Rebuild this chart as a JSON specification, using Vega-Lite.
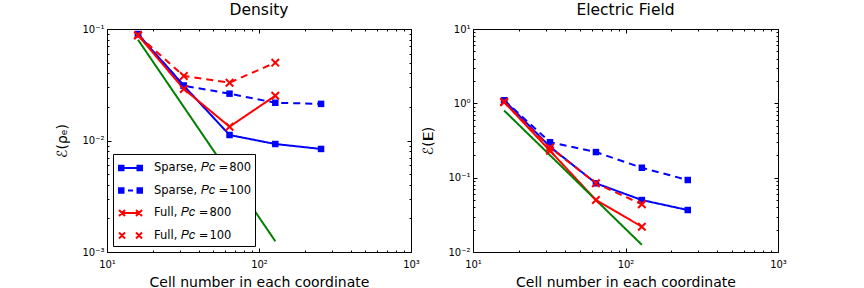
{
  "$schema": "https://vega.github.io/schema/vega-lite/v6.json",
  "padding": {"left": 55, "top": 2, "right": 5, "bottom": 0},
  "background": "white",
  "spacing": 1,
  "config": {
    "font": "DejaVu Sans",
    "view": {"stroke": "black", "strokeWidth": 1},
    "axis": {"grid": false, "domain": false, "labelFont": "DejaVu Sans", "labelFontSize": 10, "labelColor": "black", "tickColor": "black", "tickWidth": 1, "titleFont": "DejaVu Sans", "titleFontWeight": "normal", "titleColor": "black", "titleFontSize": 14, "labelFlush": false, "labelOverlap": false},
    "title": {"font": "DejaVu Sans", "fontSize": 15.5, "fontWeight": "normal", "color": "black", "offset": 6}
  },
  "datasets": {
    "d": [
      {"panel": "density", "series": "Sparse800", "x": 16, "y": 0.090},
      {"panel": "density", "series": "Sparse800", "x": 32, "y": 0.031},
      {"panel": "density", "series": "Sparse800", "x": 64, "y": 0.0112},
      {"panel": "density", "series": "Sparse800", "x": 128, "y": 0.0093},
      {"panel": "density", "series": "Sparse800", "x": 256, "y": 0.0084},
      {"panel": "density", "series": "Sparse100", "x": 16, "y": 0.090},
      {"panel": "density", "series": "Sparse100", "x": 32, "y": 0.031},
      {"panel": "density", "series": "Sparse100", "x": 64, "y": 0.0263},
      {"panel": "density", "series": "Sparse100", "x": 128, "y": 0.0218},
      {"panel": "density", "series": "Sparse100", "x": 256, "y": 0.0213},
      {"panel": "density", "series": "Full800", "x": 16, "y": 0.088},
      {"panel": "density", "series": "Full800", "x": 32, "y": 0.029},
      {"panel": "density", "series": "Full800", "x": 64, "y": 0.0133},
      {"panel": "density", "series": "Full800", "x": 128, "y": 0.0252},
      {"panel": "density", "series": "Full100", "x": 16, "y": 0.088},
      {"panel": "density", "series": "Full100", "x": 32, "y": 0.0379},
      {"panel": "density", "series": "Full100", "x": 64, "y": 0.033},
      {"panel": "density", "series": "Full100", "x": 128, "y": 0.0499},
      {"panel": "density", "series": "ref", "x": 16, "y": 0.08},
      {"panel": "density", "series": "ref", "x": 128, "y": 0.00125},
      {"panel": "efield", "series": "Sparse800", "x": 16, "y": 1.10},
      {"panel": "efield", "series": "Sparse800", "x": 32, "y": 0.26},
      {"panel": "efield", "series": "Sparse800", "x": 64, "y": 0.084},
      {"panel": "efield", "series": "Sparse800", "x": 128, "y": 0.050},
      {"panel": "efield", "series": "Sparse800", "x": 256, "y": 0.0367},
      {"panel": "efield", "series": "Sparse100", "x": 16, "y": 1.10},
      {"panel": "efield", "series": "Sparse100", "x": 32, "y": 0.30},
      {"panel": "efield", "series": "Sparse100", "x": 64, "y": 0.221},
      {"panel": "efield", "series": "Sparse100", "x": 128, "y": 0.136},
      {"panel": "efield", "series": "Sparse100", "x": 256, "y": 0.093},
      {"panel": "efield", "series": "Full800", "x": 16, "y": 1.04},
      {"panel": "efield", "series": "Full800", "x": 32, "y": 0.23},
      {"panel": "efield", "series": "Full800", "x": 64, "y": 0.050},
      {"panel": "efield", "series": "Full800", "x": 128, "y": 0.0219},
      {"panel": "efield", "series": "Full100", "x": 16, "y": 1.04},
      {"panel": "efield", "series": "Full100", "x": 32, "y": 0.255},
      {"panel": "efield", "series": "Full100", "x": 64, "y": 0.084},
      {"panel": "efield", "series": "Full100", "x": 128, "y": 0.0438},
      {"panel": "efield", "series": "ref", "x": 16, "y": 0.80},
      {"panel": "efield", "series": "ref", "x": 128, "y": 0.0125}
    ]
  },
  "resolve": {
    "scale": {"shape": "independent", "color": "independent", "strokeDash": "independent", "fill": "independent", "stroke": "independent"},
    "legend": {"shape": "independent", "fill": "independent", "stroke": "independent", "color": "independent", "strokeDash": "independent"}
  },
  "hconcat": [
    {
      "width": 304, "height": 223,
      "title": "Density",
      "data": {"name": "d"},
      "transform": [{"filter": "datum.panel == 'density'"}],
      "resolve": {"axis": {"x": "independent", "y": "independent"}},
      "layer": [
        {
          "mark": {"type": "line", "strokeWidth": 2, "clip": true},
          "encoding": {
            "x": {"field": "x", "type": "quantitative", "scale": {"type": "log", "domain": [10, 1000]},
              "axis": {"orient": "bottom", "title": "Cell number in each coordinate", "values": [10,20,30,40,50,60,70,80,90,100,200,300,400,500,600,700,800,900,1000],
                "labelExpr": "datum.value == 10 ? '10¹' : datum.value == 100 ? '10²' : datum.value == 1000 ? '10³' : ''",
                "tickSize": {"condition": {"test": "indexof([10,100,1000], datum.value) >= 0", "value": -4}, "value": -2},
                "labelPadding": 11, "titlePadding": 4}},
            "y": {"field": "y", "type": "quantitative", "scale": {"type": "log", "domain": [0.001, 0.1]},
              "axis": {"orient": "left", "title": "ℰ(ρₑ)", "values": [0.001,0.002,0.003,0.004,0.005,0.006,0.007,0.008,0.009,0.01,0.02,0.03,0.04,0.05,0.06,0.07,0.08,0.09,0.1],
                "labelExpr": "datum.value == 0.001 ? '10⁻³' : datum.value == 0.01 ? '10⁻²' : datum.value == 0.1 ? '10⁻¹' : ''",
                "tickSize": {"condition": {"test": "indexof([0.001,0.01,0.1], datum.value) >= 0", "value": -4}, "value": -2},
                "labelPadding": 7, "titlePadding": 12}},
            "color": {"field": "series", "type": "nominal", "scale": {"domain": ["Sparse800","Sparse100","Full800","Full100","ref"], "range": ["#0000ff","#0000ff","#ff0000","#ff0000","#008000"]}, "legend": null},
            "strokeDash": {"field": "series", "type": "nominal", "scale": {"domain": ["Sparse800","Sparse100","Full800","Full100","ref"], "range": [[1,0],[7,5],[1,0],[7,5],[1,0]]}, "legend": null}
          }
        },
        {
          "transform": [{"filter": "indexof(datum.series, 'Sparse') == 0"}],
          "mark": {"type": "point", "shape": "square", "filled": true, "size": 42, "opacity": 1},
          "encoding": {
            "x": {"field": "x", "type": "quantitative",
              "axis": {"orient": "top", "title": null, "labels": false, "values": [10,20,30,40,50,60,70,80,90,100,200,300,400,500,600,700,800,900,1000],
                "tickSize": {"condition": {"test": "indexof([10,100,1000], datum.value) >= 0", "value": -4}, "value": -2}}},
            "y": {"field": "y", "type": "quantitative",
              "axis": {"orient": "right", "title": null, "labels": false, "values": [0.001,0.002,0.003,0.004,0.005,0.006,0.007,0.008,0.009,0.01,0.02,0.03,0.04,0.05,0.06,0.07,0.08,0.09,0.1],
                "tickSize": {"condition": {"test": "indexof([0.001,0.01,0.1], datum.value) >= 0", "value": -4}, "value": -2}}},
            "color": {"field": "series", "type": "nominal", "legend": null}
          }
        },
        {
          "transform": [{"filter": "indexof(datum.series, 'Full') == 0"}],
          "mark": {"type": "point", "shape": "M-1,-1L1,1M-1,1L1,-1", "filled": false, "size": 56, "strokeWidth": 2, "opacity": 1},
          "encoding": {
            "x": {"field": "x", "type": "quantitative", "axis": null},
            "y": {"field": "y", "type": "quantitative", "axis": null},
            "color": {"field": "series", "type": "nominal", "legend": null}
          }
        },
        {
          "transform": [{"filter": "datum.series != 'ref'"}, {"filter": "datum.x < 0"}],
          "mark": {"type": "point", "strokeWidth": 2},
          "encoding": {
            "x": {"field": "x", "type": "quantitative", "axis": null},
            "y": {"field": "y", "type": "quantitative", "axis": null},
            "fill": {"field": "series", "type": "nominal", "scale": {"domain": ["Sparse800","Sparse100","Full800","Full100"], "range": ["#0000ff","#0000ff","#ff0000","#ff0000"]}},
            "stroke": {"field": "series", "type": "nominal", "scale": {"domain": ["Sparse800","Sparse100","Full800","Full100"], "range": ["#0000ff","#0000ff","#ff0000","#ff0000"]}},
            "shape": {"field": "series", "type": "nominal",
              "scale": {"domain": ["Sparse800","Sparse100","Full800","Full100"],
                "range": [
                  "M-0.55,0H1.25M-0.8,-0.22H-0.35V0.22H-0.8ZM1.05,-0.22H1.5V0.22H1.05Z",
                  "M0.1,0H0.6M-0.8,-0.22H-0.35V0.22H-0.8ZM1.05,-0.22H1.5V0.22H1.05Z",
                  "M-0.5,0H1.2M-0.8,-0.3L-0.2,0.3M-0.8,0.3L-0.2,-0.3M0.9,-0.3L1.5,0.3M0.9,0.3L1.5,-0.3",
                  "M-0.8,-0.3L-0.2,0.3M-0.8,0.3L-0.2,-0.3M0.9,-0.3L1.5,0.3M0.9,0.3L1.5,-0.3"
                ]},
              "legend": {
                "orient": "none", "legendX": 6, "legendY": 125, "title": null,
                "symbolSize": 400, "symbolStrokeWidth": 2, "symbolOpacity": 1,
                "labelFont": "DejaVu Sans", "labelFontSize": 11.5, "labelColor": "black", "labelOffset": 16,
                "rowPadding": 4.5, "padding": 3, "strokeColor": "black", "fillColor": "white", "cornerRadius": 0,
                "labelExpr": "datum.value == 'Sparse800' ? 'Sparse, 𝑃𝑐 =\u200a800' : datum.value == 'Sparse100' ? 'Sparse, 𝑃𝑐 =\u200a100' : datum.value == 'Full800' ? 'Full, 𝑃𝑐 =\u200a800' : 'Full, 𝑃𝑐 =\u200a100'"
              }}
          }
        }
      ]
    },
    {
      "width": 305, "height": 223,
      "title": "Electric Field",
      "data": {"name": "d"},
      "transform": [{"filter": "datum.panel == 'efield'"}],
      "resolve": {"axis": {"x": "independent", "y": "independent"}},
      "layer": [
        {
          "mark": {"type": "line", "strokeWidth": 2, "clip": true},
          "encoding": {
            "x": {"field": "x", "type": "quantitative", "scale": {"type": "log", "domain": [10, 1000]},
              "axis": {"orient": "bottom", "title": "Cell number in each coordinate", "values": [10,20,30,40,50,60,70,80,90,100,200,300,400,500,600,700,800,900,1000],
                "labelExpr": "datum.value == 10 ? '10¹' : datum.value == 100 ? '10²' : datum.value == 1000 ? '10³' : ''",
                "tickSize": {"condition": {"test": "indexof([10,100,1000], datum.value) >= 0", "value": -4}, "value": -2},
                "labelPadding": 11, "titlePadding": 4}},
            "y": {"field": "y", "type": "quantitative", "scale": {"type": "log", "domain": [0.01, 10]},
              "axis": {"orient": "left", "title": "ℰ(𝐄)", "values": [0.01,0.02,0.03,0.04,0.05,0.06,0.07,0.08,0.09,0.1,0.2,0.3,0.4,0.5,0.6,0.7,0.8,0.9,1,2,3,4,5,6,7,8,9,10],
                "labelExpr": "datum.value == 0.01 ? '10⁻²' : datum.value == 0.1 ? '10⁻¹' : datum.value == 1 ? '10⁰' : datum.value == 10 ? '10¹' : ''",
                "tickSize": {"condition": {"test": "indexof([0.01,0.1,1,10], datum.value) >= 0", "value": -4}, "value": -2},
                "labelPadding": 7, "titlePadding": 12}},
            "color": {"field": "series", "type": "nominal", "scale": {"domain": ["Sparse800","Sparse100","Full800","Full100","ref"], "range": ["#0000ff","#0000ff","#ff0000","#ff0000","#008000"]}, "legend": null},
            "strokeDash": {"field": "series", "type": "nominal", "scale": {"domain": ["Sparse800","Sparse100","Full800","Full100","ref"], "range": [[1,0],[7,5],[1,0],[7,5],[1,0]]}, "legend": null}
          }
        },
        {
          "transform": [{"filter": "indexof(datum.series, 'Sparse') == 0"}],
          "mark": {"type": "point", "shape": "square", "filled": true, "size": 42, "opacity": 1},
          "encoding": {
            "x": {"field": "x", "type": "quantitative",
              "axis": {"orient": "top", "title": null, "labels": false, "values": [10,20,30,40,50,60,70,80,90,100,200,300,400,500,600,700,800,900,1000],
                "tickSize": {"condition": {"test": "indexof([10,100,1000], datum.value) >= 0", "value": -4}, "value": -2}}},
            "y": {"field": "y", "type": "quantitative",
              "axis": {"orient": "right", "title": null, "labels": false, "values": [0.01,0.02,0.03,0.04,0.05,0.06,0.07,0.08,0.09,0.1,0.2,0.3,0.4,0.5,0.6,0.7,0.8,0.9,1,2,3,4,5,6,7,8,9,10],
                "tickSize": {"condition": {"test": "indexof([0.01,0.1,1,10], datum.value) >= 0", "value": -4}, "value": -2}}},
            "color": {"field": "series", "type": "nominal", "legend": null}
          }
        },
        {
          "transform": [{"filter": "indexof(datum.series, 'Full') == 0"}],
          "mark": {"type": "point", "shape": "M-1,-1L1,1M-1,1L1,-1", "filled": false, "size": 56, "strokeWidth": 2, "opacity": 1},
          "encoding": {
            "x": {"field": "x", "type": "quantitative", "axis": null},
            "y": {"field": "y", "type": "quantitative", "axis": null},
            "color": {"field": "series", "type": "nominal", "legend": null}
          }
        }
      ]
    }
  ]
}
